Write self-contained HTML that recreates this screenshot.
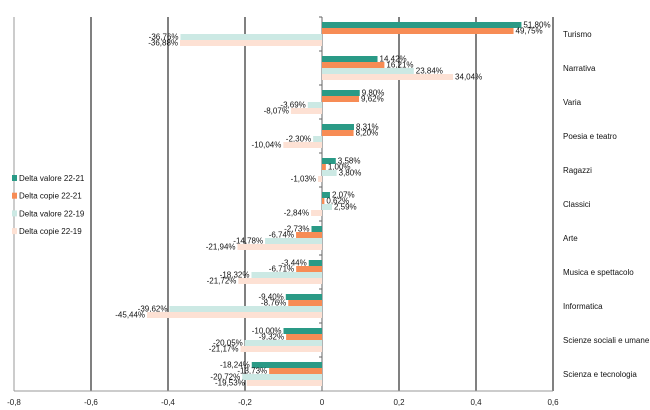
<!DOCTYPE html>
<html><head><meta charset="utf-8"><style>
body{margin:0;background:#fff;}
svg{display:block;font-family:"Liberation Sans",sans-serif;}
</style></head><body>
<svg id="c" width="650" height="410"></svg>
<script>
const categories=["Turismo","Narrativa","Varia","Poesia e teatro","Ragazzi","Classici","Arte","Musica e spettacolo","Informatica","Scienze sociali e umane","Scienza e tecnologia"];
const seriesNames=["Delta valore 22-21","Delta copie 22-21","Delta valore 22-19","Delta copie 22-19"];
const valore2221=[0.518,0.1442,0.098,0.0831,0.0358,0.0207,-0.0273,-0.0344,-0.094,-0.10,-0.1824];
const copie2221=[0.4975,0.1621,0.0962,0.082,0.01,0.0062,-0.0674,-0.0671,-0.0876,-0.0932,-0.1373];
const valore2219=[-0.3676,0.2384,-0.0369,-0.023,0.038,0.0259,-0.1478,-0.1832,-0.3962,-0.2005,-0.2072];
const copie2219=[-0.3688,0.3404,-0.0807,-0.1004,-0.0103,-0.0284,-0.2194,-0.2172,-0.4544,-0.2117,-0.1953];
const tickValues=[-0.8,-0.6,-0.4,-0.2,0,0.2,0.4,0.6];
const tickLabels=["-0,8","-0,6","-0,4","-0,2","0","0,2","0,4","0,6"];
const colors=["#2a9a86","#f78c55","#cce9e4","#fde1d4"];
const series=[valore2221,copie2221,valore2219,copie2219];
const NS="http://www.w3.org/2000/svg";
const svg=document.getElementById("c");
const x0=322,px=385,plotTop=17,plotBot=391,band=(plotBot-plotTop)/categories.length,bh=6;
const X=v=>x0+v*px;
function el(t,a,txt){const e=document.createElementNS(NS,t);for(const k in a)e.setAttribute(k,a[k]);if(txt!==undefined)e.textContent=txt;svg.appendChild(e);return e;}
tickValues.forEach((v,i)=>{
 const g=el("line",{x1:X(v),x2:X(v),y1:plotTop,y2:plotBot,stroke:i==0?"#999":"#000","stroke-width":1});
 
 
 const t=el("text",{x:X(v),y:405,"font-size":8,"text-anchor":"middle",fill:"#222"},tickLabels[i]);
 
 
});
const ax=el("line",{x1:X(-0.8),x2:X(0.6),y1:plotBot,y2:plotBot,stroke:"#999"});


const ay=el("line",{x1:x0,x2:x0,y1:plotTop,y2:plotBot,stroke:"#666"});


categories.forEach((c,i)=>{
 const yb=plotTop+band*i, g0=yb+band/2-2*bh;
 const tk=el("line",{x1:x0-3,x2:x0,y1:yb,y2:yb,stroke:"#666"});
 
 
 series.forEach((s,j)=>{
  const v=s[i],y=g0+j*bh;
  const r=el("rect",{x:Math.min(X(v),x0),y:y,width:Math.abs(X(v)-x0),height:bh,fill:colors[j]});
  
  
  const lbl=(v*100).toFixed(2).replace('.',',')+'%';
  const t=el("text",{x:v>=0?X(v)+2:X(v)-2,y:y+bh-0.5,"font-size":8,"text-anchor":v>=0?"start":"end",fill:"#111"},lbl);
  
  
 });
 const ct=el("text",{x:563,y:yb+band/2+3,"font-size":8,fill:"#111"},c);
 
 
});
seriesNames.forEach((n,j)=>{
 const y=178+j*17.7;
 const m=el("rect",{x:12,y:y-3,width:5,height:6,fill:colors[j]});
 
 
 const t=el("text",{x:19,y:y+3,"font-size":8,fill:"#111"},n);
 
 
});
</script>
</body></html>
